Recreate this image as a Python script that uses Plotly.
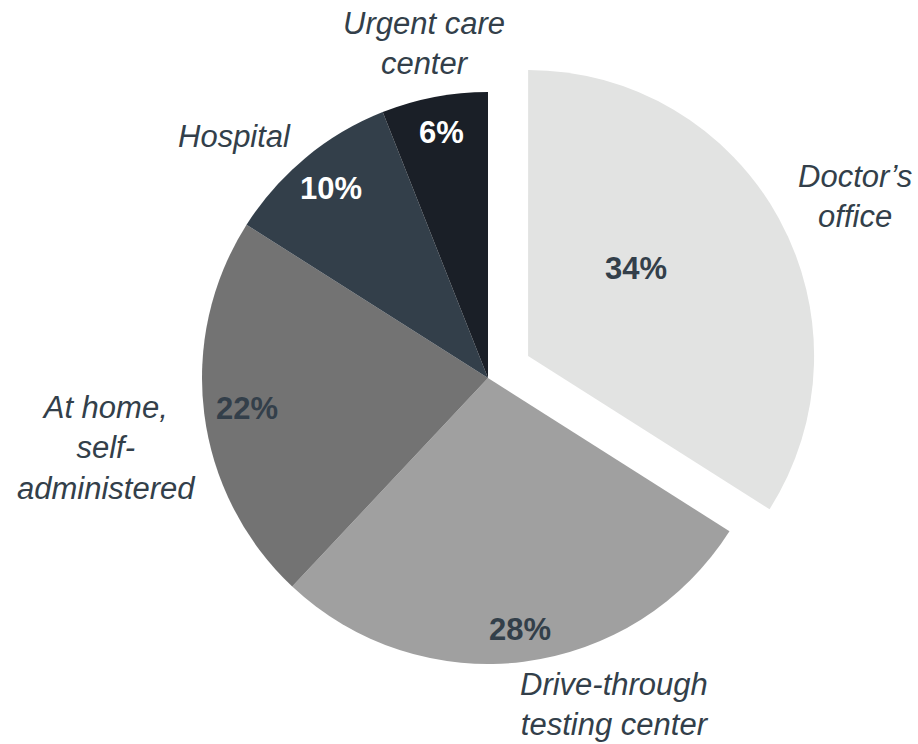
import math
import plotly.graph_objects as go

# Where people got tested (share of respondents, %)
categories = ["Doctor\u2019s office", "Drive-through testing center", "At home, self-administered",
              "Hospital", "Urgent care center"]
shares = [34, 28, 22, 10, 6]
category_text = ["Doctor\u2019s<br>office", "Drive-through<br>testing center",
                 "At home,<br>self-<br>administered", "Hospital", "Urgent care<br>center"]

slice_colors = ["#e2e3e2", "#a0a0a0", "#737373", "#333f4a", "#1a1f27"]
pct_colors = ["#333f4a", "#333f4a", "#333f4a", "#ffffff", "#ffffff"]
pulls = [0.16, 0, 0, 0, 0]

# label placement around the pie: (angle offset from slice middle in degrees, radius factor)
pct_place = [(-7.6, 0.643), (0, 0.888), (0, 0.85), (0, 0.86), (0, 0.874)]
cat_place = [(2.5, 1.43), (-13.9, 1.225), (-3.2, 1.357), (-6.7, 1.224), (0, 1.19)]

W, H = 918, 744
CX, CY, R = 488, 378, 286
TEXT = "#333f4a"
FONT = "Liberation Sans, Arial, sans-serif"

half = R * (1 + max(pulls))
domain_x = [(CX - half) / W, (CX + half) / W]
domain_y = [1 - (CY + half) / H, 1 - (CY - half) / H]

fig = go.Figure(go.Pie(
    labels=categories,
    values=shares,
    sort=False,
    direction="clockwise",
    rotation=0,
    pull=pulls,
    marker=dict(colors=slice_colors, line=dict(width=0)),
    textinfo="none",
    hoverinfo="label+percent",
    showlegend=False,
    domain=dict(x=domain_x, y=domain_y),
))


def to_paper(angle_deg, radius):
    a = math.radians(angle_deg)
    px = CX + radius * math.sin(a)
    py = CY - radius * math.cos(a)
    return px / W, 1 - py / H


total = sum(shares)
annotations = []
cum = 0
for i, v in enumerate(shares):
    mid = (cum + v / 2) / total * 360
    cum += v
    ax, ay = to_paper(mid + pct_place[i][0], pct_place[i][1] * R)
    annotations.append(dict(
        x=ax, y=ay, xref="paper", yref="paper", xanchor="center", yanchor="middle",
        text=f"<b>{v}%</b>", showarrow=False,
        font=dict(family=FONT, size=31, color=pct_colors[i]),
    ))
    lx, ly = to_paper(mid + cat_place[i][0], cat_place[i][1] * R)
    annotations.append(dict(
        x=lx, y=ly, xref="paper", yref="paper", xanchor="center", yanchor="middle",
        text=f"<i>{category_text[i]}</i>", showarrow=False, align="center",
        font=dict(family=FONT, size=31, color=TEXT),
    ))

fig.update_layout(
    width=W, height=H,
    margin=dict(l=0, r=0, t=0, b=0),
    paper_bgcolor="white",
    plot_bgcolor="white",
    annotations=annotations,
)

fig.write_html("out.html")
